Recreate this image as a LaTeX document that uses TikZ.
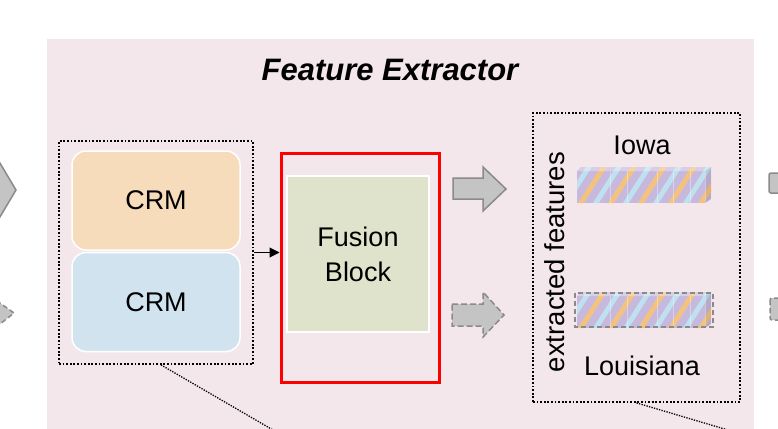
\documentclass[tikz,border=0pt]{standalone}
\usepackage{fontspec}
\setmainfont{Liberation Sans}
\usetikzlibrary{arrows.meta}
\definecolor{panelpink}{HTML}{F4E7EC}
\definecolor{crmpeach}{HTML}{F6DCBB}
\definecolor{crmblue}{HTML}{D1E3EF}
\definecolor{fusiongreen}{HTML}{DFE3CC}
\definecolor{arrowgray}{HTML}{C4C4C4}
\definecolor{arrowedge}{HTML}{8A8A8A}
\definecolor{barpurple}{HTML}{C6B9DD}
\definecolor{barorange}{HTML}{F4C27F}
\definecolor{barblue}{HTML}{BFE0EE}
\newcommand\featurebar[1]{%
  \begin{scope}[shift={(577,#1)}]
    \begin{scope}
      \clip (0,4) -- (4,0) -- (134,0) -- (134,32) -- (128,36) -- (0,36) -- cycle;
      \fill[barpurple] (0,0) rectangle (134,36);
      \foreach \i in {0,...,6}{
        \draw[barorange, line width=5] ({\i*30-30},42) -- ++(32,-50);
        \draw[barblue, line width=5] ({\i*30-15},42) -- ++(32,-50);
      }
      \fill[white, opacity=0.3] (0,4) -- (4,0) -- (134,0) -- (128,4) -- cycle;
      \fill[black, opacity=0.08] (128,4) -- (134,0) -- (134,32) -- (128,36) -- cycle;
      \foreach \xx in {33,50,80,96,113,128}{
        \draw[white, opacity=0.35, line width=0.6] (\xx,4) -- (\xx,36);
      }
    \end{scope}
  \end{scope}%
}
\begin{document}
\begin{tikzpicture}[x=1pt,y=-1pt,
  txt/.style={font=\fontsize{27}{35}\selectfont, text=black, align=center},
  dotbox/.style={draw=black, line width=1.8, dash pattern=on 1.8pt off 1.8pt, inner sep=0},
  crmbox/.style={draw=white, line width=1.5, rounded corners=14, inner sep=0,
    minimum width=168, minimum height=99, txt},
  blockarrow/.style={fill=arrowgray, draw=arrowedge, line width=1.5, line join=miter},
  dotline/.style={draw=black, line width=1.3, dash pattern=on 1.3pt off 1.3pt}
]
\useasboundingbox (0,0) rectangle (778,428);
\clip (0,0) rectangle (778,428);
\fill[panelpink] (47,39) rectangle (754,430);

% title
\node[font=\fontsize{31}{36}\selectfont\bfseries\itshape] (title) at (390,70) {Feature Extractor};

% left partial arrows
\draw[blockarrow] (-12,143) -- (16,190) -- (-12,237) -- cycle;
\draw[blockarrow, dash pattern=on 5pt off 3pt] (-10,296) -- (14,313) -- (-10,332) -- cycle;

% left dotted group
\node[dotbox, minimum width=194, minimum height=223] (leftbox) at (156,252.5) {};
\node[crmbox, fill=crmpeach] (crm1) at (156,200.5) {CRM};
\node[crmbox, fill=crmblue] (crm2) at (156,302) {CRM};

% red box and fusion block
\node[draw=red, line width=3, minimum width=158, minimum height=229, inner sep=0] (redbox) at (360,267.5) {};
\node[draw=white, line width=1.5, fill=fusiongreen, minimum width=142, minimum height=156, inner sep=0, txt] (fusion) at (358,254) {Fusion\\Block};

\draw[black, line width=1, -{Triangle[length=10pt,width=10pt]}] (leftbox.east) -- (leftbox.east -| redbox.west);

% middle block arrows
\draw[blockarrow] (453,178) -- (483,178) -- (483,167) -- (506,189) -- (483,211) -- (483,199) -- (453,199) -- cycle;
\draw[blockarrow, dash pattern=on 6pt off 3pt] (452,304) -- (483,304) -- (483,292) -- (504,315) -- (483,337) -- (483,326) -- (452,326) -- cycle;

% right dotted box
\node[dotbox, minimum width=207, minimum height=289] (rightbox) at (636.5,257.5) {};
\node[txt, font=\fontsize{27.5}{33}\selectfont, rotate=90] (extr) at (555,262) {extracted features};
\node[txt] (iowa) at (642,145) {Iowa};
\node[txt] (louisiana) at (642,366) {Louisiana};

\featurebar{167}
\featurebar{292}
\draw[arrowedge, line width=1.3, dash pattern=on 5pt off 3pt] (575,293) rectangle (713,327);

% right partial shapes
\draw[blockarrow, rounded corners=2] (769,173) rectangle (795,193);
\draw[blockarrow, rounded corners=2, dash pattern=on 5pt off 3pt] (770,298) rectangle (795,320);

% dotted zoom lines
\coordinate (leftend) at (273,430);
\coordinate (rightend) at (728,430);
\draw[dotline] ([xshift=5pt]leftbox.south) -- (leftend);
\draw[dotline] (rightbox.south) -- (rightend);
\end{tikzpicture}
\end{document}
